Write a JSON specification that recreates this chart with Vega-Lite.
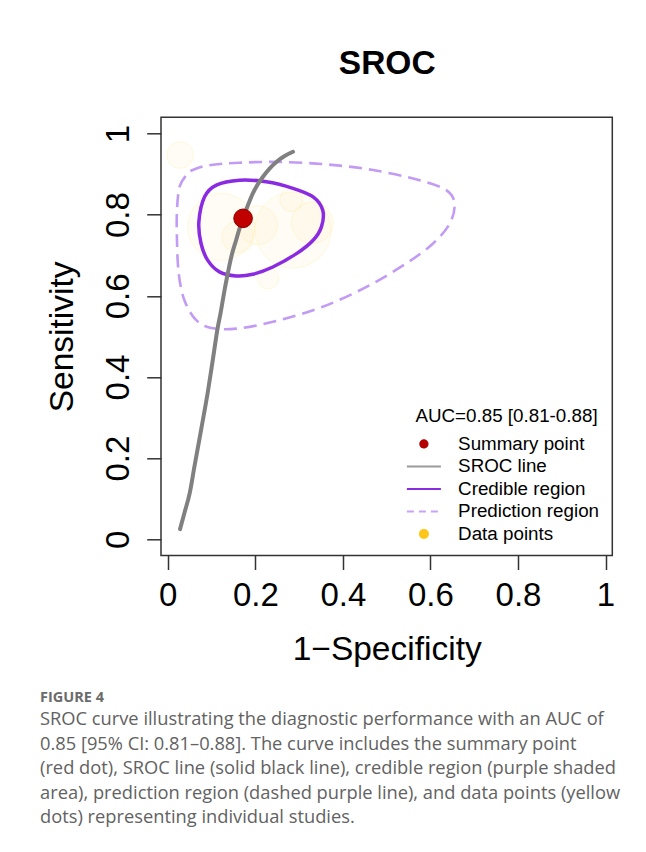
{
  "$schema": "https://vega.github.io/schema/vega-lite/v6.json",
  "width": 451.3,
  "height": 438.2,
  "autosize": {"type": "none"},
  "padding": {"left": 161, "top": 117.3, "right": 33.7, "bottom": 296.5},
  "background": "white",
  "config": {
    "view": {"stroke": "#333333", "strokeWidth": 1.5},
    "font": "Liberation Sans",
    "legend": {"symbolOpacity": 1}
  },
  "title": {
    "text": "FIGURE 4",
    "subtitle": [
      "SROC curve illustrating the diagnostic performance with an AUC of",
      "0.85 [95% CI: 0.81–0.88]. The curve includes the summary point",
      "(red dot), SROC line (solid black line), credible region (purple shaded",
      "area), prediction region (dashed purple line), and data points (yellow",
      "dots) representing individual studies."
    ],
    "orient": "bottom",
    "anchor": "start",
    "frame": "group",
    "dx": -121,
    "offset": 25,
    "font": "Open Sans",
    "fontSize": 14.5,
    "fontWeight": "bold",
    "color": "#6b6b6b",
    "subtitleFont": "Open Sans",
    "subtitleFontSize": 18.3,
    "subtitleFontWeight": "normal",
    "subtitleColor": "#626262",
    "subtitleLineHeight": 24.5,
    "subtitlePadding": 6
  },
  "datasets": {
    "studies": [
      {"fpr": 0.028, "sens": 0.947, "weight": 12.2},
      {"fpr": 0.206, "sens": 0.774, "weight": 26.2},
      {"fpr": 0.160, "sens": 0.745, "weight": 17.6},
      {"fpr": 0.282, "sens": 0.836, "weight": 9.2},
      {"fpr": 0.229, "sens": 0.643, "weight": 7.8},
      {"fpr": 0.286, "sens": 0.762, "weight": 100},
      {"fpr": 0.122, "sens": 0.770, "weight": 78},
      {"fpr": 0.330, "sens": 0.780, "weight": 30}
    ],
    "prediction": [
      {"i": 1, "fpr": 0.057, "sens": 0.910},
      {"i": 2, "fpr": 0.095, "sens": 0.922},
      {"i": 3, "fpr": 0.164, "sens": 0.928},
      {"i": 4, "fpr": 0.255, "sens": 0.930},
      {"i": 5, "fpr": 0.362, "sens": 0.924},
      {"i": 6, "fpr": 0.469, "sens": 0.910},
      {"i": 7, "fpr": 0.575, "sens": 0.885},
      {"i": 8, "fpr": 0.637, "sens": 0.860},
      {"i": 9, "fpr": 0.655, "sens": 0.826},
      {"i": 10, "fpr": 0.644, "sens": 0.778},
      {"i": 11, "fpr": 0.606, "sens": 0.729},
      {"i": 12, "fpr": 0.545, "sens": 0.680},
      {"i": 13, "fpr": 0.454, "sens": 0.622},
      {"i": 14, "fpr": 0.354, "sens": 0.573},
      {"i": 15, "fpr": 0.255, "sens": 0.540},
      {"i": 16, "fpr": 0.164, "sens": 0.520},
      {"i": 17, "fpr": 0.103, "sens": 0.520},
      {"i": 18, "fpr": 0.065, "sens": 0.540},
      {"i": 19, "fpr": 0.038, "sens": 0.589},
      {"i": 20, "fpr": 0.025, "sens": 0.655},
      {"i": 21, "fpr": 0.021, "sens": 0.737},
      {"i": 22, "fpr": 0.021, "sens": 0.811},
      {"i": 23, "fpr": 0.027, "sens": 0.869},
      {"i": 24, "fpr": 0.042, "sens": 0.897}
    ],
    "credible": [
      {"i": 1, "fpr": 0.071, "sens": 0.782},
      {"i": 2, "fpr": 0.084, "sens": 0.844},
      {"i": 3, "fpr": 0.111, "sens": 0.873},
      {"i": 4, "fpr": 0.164, "sens": 0.885},
      {"i": 5, "fpr": 0.225, "sens": 0.881},
      {"i": 6, "fpr": 0.286, "sens": 0.865},
      {"i": 7, "fpr": 0.332, "sens": 0.844},
      {"i": 8, "fpr": 0.354, "sens": 0.811},
      {"i": 9, "fpr": 0.351, "sens": 0.770},
      {"i": 10, "fpr": 0.332, "sens": 0.737},
      {"i": 11, "fpr": 0.294, "sens": 0.704},
      {"i": 12, "fpr": 0.240, "sens": 0.671},
      {"i": 13, "fpr": 0.194, "sens": 0.653},
      {"i": 14, "fpr": 0.156, "sens": 0.649},
      {"i": 15, "fpr": 0.118, "sens": 0.659},
      {"i": 16, "fpr": 0.091, "sens": 0.688},
      {"i": 17, "fpr": 0.076, "sens": 0.729}
    ],
    "sroc": [
      {"fpr": 0.028, "sens": 0.025},
      {"fpr": 0.038, "sens": 0.065},
      {"fpr": 0.050, "sens": 0.113},
      {"fpr": 0.061, "sens": 0.180},
      {"fpr": 0.072, "sens": 0.245},
      {"fpr": 0.082, "sens": 0.305},
      {"fpr": 0.091, "sens": 0.360},
      {"fpr": 0.099, "sens": 0.415},
      {"fpr": 0.106, "sens": 0.465},
      {"fpr": 0.113, "sens": 0.515},
      {"fpr": 0.121, "sens": 0.560},
      {"fpr": 0.129, "sens": 0.610},
      {"fpr": 0.137, "sens": 0.655},
      {"fpr": 0.146, "sens": 0.700},
      {"fpr": 0.156, "sens": 0.737},
      {"fpr": 0.164, "sens": 0.766},
      {"fpr": 0.172, "sens": 0.791},
      {"fpr": 0.183, "sens": 0.823},
      {"fpr": 0.194, "sens": 0.852},
      {"fpr": 0.205, "sens": 0.874},
      {"fpr": 0.217, "sens": 0.893},
      {"fpr": 0.232, "sens": 0.913},
      {"fpr": 0.248, "sens": 0.930},
      {"fpr": 0.266, "sens": 0.944},
      {"fpr": 0.286, "sens": 0.955}
    ],
    "summary": [{"fpr": 0.172, "sens": 0.791}],
    "legend": [
      {"item": "Summary point"},
      {"item": "SROC line"},
      {"item": "Credible region"},
      {"item": "Prediction region"},
      {"item": "Data points"}
    ]
  },
  "resolve": {"axis": {"x": "independent", "y": "independent"}},
  "layer": [
    {
      "data": {"name": "studies"},
      "mark": {"type": "point", "shape": "circle", "filled": true, "fill": "#ffe2a0", "fillOpacity": 0.11, "stroke": "#ffe066", "strokeOpacity": 0.2, "strokeWidth": 1, "opacity": 1},
      "encoding": {
        "x": {
          "field": "fpr", "type": "quantitative",
          "scale": {"domain": [-0.0155, 1.0155], "nice": false, "zero": false},
          "axis": {
            "orient": "bottom", "values": [0, 0.2, 0.4, 0.6, 0.8, 1], "format": "~g",
            "domain": false, "grid": false, "ticks": true, "tickSize": 14, "tickColor": "#333333", "tickWidth": 1.5,
            "labelFont": "Liberation Sans", "labelFontSize": 33, "labelColor": "black", "labelAlign": "center",
            "labelBaseline": "alphabetic", "labelPadding": 36.2, "labelFlush": false, "labelOverlap": false,
            "title": "1−Specificity", "titleFont": "Liberation Sans", "titleFontSize": 33.5, "titleFontWeight": "normal",
            "titleColor": "black", "titleX": 225.7, "titleY": 103.8, "titleAlign": "center", "titleBaseline": "alphabetic"
          }
        },
        "y": {
          "field": "sens", "type": "quantitative",
          "scale": {"domain": [-0.04, 1.04], "nice": false, "zero": false},
          "axis": {
            "orient": "left", "values": [0, 0.2, 0.4, 0.6, 0.8, 1], "format": "~g",
            "domain": false, "grid": false, "ticks": true, "tickSize": 14.3, "tickColor": "#333333", "tickWidth": 1.5,
            "labelFont": "Liberation Sans", "labelFontSize": 33, "labelColor": "black", "labelAngle": 270,
            "labelAlign": "center", "labelBaseline": "alphabetic", "labelPadding": 18.4, "labelFlush": false, "labelOverlap": false,
            "title": "Sensitivity", "titleFont": "Liberation Sans", "titleFontSize": 33.5, "titleFontWeight": "normal",
            "titleColor": "black", "titleX": -88.7, "titleY": 219.1, "titleAngle": 270, "titleAlign": "center", "titleBaseline": "alphabetic"
          }
        },
        "size": {"field": "weight", "type": "quantitative", "scale": {"domain": [0, 100], "range": [0, 5800]}, "legend": null}
      }
    },
    {
      "data": {"name": "prediction"},
      "mark": {"type": "line", "interpolate": "cardinal-closed", "stroke": "#c29bf5", "strokeWidth": 2.6, "strokeDash": [13, 7]},
      "encoding": {
        "x": {
          "field": "fpr", "type": "quantitative",
          "axis": {
            "orient": "top", "title": "SROC", "labels": false, "ticks": false, "domain": false, "grid": false,
            "titleFont": "Liberation Sans", "titleFontSize": 33.5, "titleFontWeight": "bold", "titleColor": "black",
            "titleX": 225.7, "titleY": -44, "titleAlign": "center", "titleBaseline": "alphabetic"
          }
        },
        "y": {"field": "sens", "type": "quantitative", "axis": null},
        "order": {"field": "i", "type": "quantitative"}
      }
    },
    {
      "data": {"name": "credible"},
      "mark": {"type": "line", "interpolate": "cardinal-closed", "stroke": "#8a2be2", "strokeWidth": 3.5},
      "encoding": {
        "x": {"field": "fpr", "type": "quantitative", "axis": null},
        "y": {"field": "sens", "type": "quantitative", "axis": null},
        "order": {"field": "i", "type": "quantitative"}
      }
    },
    {
      "data": {"name": "sroc"},
      "mark": {"type": "line", "interpolate": "monotone", "stroke": "#808080", "strokeWidth": 4, "strokeCap": "round"},
      "encoding": {
        "x": {"field": "fpr", "type": "quantitative", "axis": null},
        "y": {"field": "sens", "type": "quantitative", "axis": null}
      }
    },
    {
      "data": {"name": "summary"},
      "mark": {"type": "point", "shape": "circle", "filled": true, "fill": "#c00000", "stroke": "#8b0000", "strokeWidth": 1, "size": 346, "opacity": 1},
      "encoding": {
        "x": {"field": "fpr", "type": "quantitative", "axis": null},
        "y": {"field": "sens", "type": "quantitative", "axis": null}
      }
    },
    {
      "data": {"name": "legend"},
      "mark": {"type": "point", "opacity": 0},
      "encoding": {
        "fill": {
          "field": "item", "type": "nominal",
          "scale": {"domain": ["Summary point", "SROC line", "Credible region", "Prediction region", "Data points"],
                    "range": ["#b30000", "transparent", "transparent", "transparent", "#ffc61a"]},
          "legend": {
            "orient": "none", "legendX": 253.5, "legendY": 289.4, "padding": 0,
            "title": "AUC=0.85 [0.81-0.88]", "titleFont": "Liberation Sans", "titleFontSize": 18.8, "titleFontWeight": "normal",
            "titleColor": "black", "titleAnchor": "middle", "titleLimit": 400, "titlePadding": 9,
            "labelFont": "Liberation Sans", "labelFontSize": 18.8, "labelColor": "black", "labelLimit": 300, "labelOffset": 24.8,
            "symbolSize": 100, "symbolStrokeWidth": 2, "rowPadding": 2.5, "symbolOpacity": 1
          }
        },
        "stroke": {
          "field": "item", "type": "nominal",
          "scale": {"domain": ["Summary point", "SROC line", "Credible region", "Prediction region", "Data points"],
                    "range": ["#b30000", "#9a9a9a", "#8a2be2", "#c9a3f7", "#ffc61a"]},
          "legend": {"title": "AUC=0.85 [0.81-0.88]"}
        },
        "shape": {
          "field": "item", "type": "nominal",
          "scale": {"domain": ["Summary point", "SROC line", "Credible region", "Prediction region", "Data points"],
                    "range": ["M-0.72,0A0.72,0.72,0,1,1,0.72,0A0.72,0.72,0,1,1,-0.72,0Z", "M-3.4,0H3.4", "M-3.4,0H3.4", "M-3.4,0H3.4", "M-0.8,0A0.8,0.8,0,1,1,0.8,0A0.8,0.8,0,1,1,-0.8,0Z"]},
          "legend": {"title": "AUC=0.85 [0.81-0.88]"}
        },
        "strokeDash": {
          "field": "item", "type": "nominal",
          "scale": {"domain": ["Summary point", "SROC line", "Credible region", "Prediction region", "Data points"],
                    "range": [[1, 0], [1, 0], [1, 0], [7, 5], [1, 0]]},
          "legend": {"title": "AUC=0.85 [0.81-0.88]"}
        }
      }
    }
  ]
}
